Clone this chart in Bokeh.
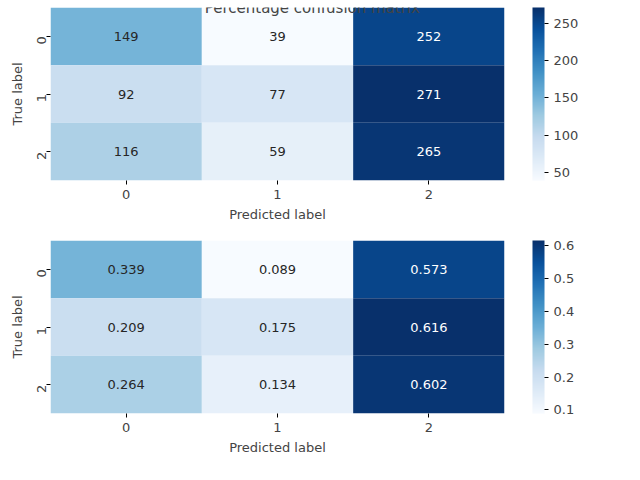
import math
from bokeh.plotting import figure
from bokeh.layouts import column
from bokeh.models import ColumnDataSource, LinearColorMapper, ColorBar, FixedTicker, Label
from bokeh.palettes import Blues256
from bokeh.core.properties import value
from bokeh.embed import file_html
from bokeh.resources import INLINE

labels = ["0", "1", "2"]
counts = [[149, 39, 252], [92, 77, 271], [116, 59, 265]]
fractions = [[0.339, 0.089, 0.573], [0.209, 0.175, 0.616], [0.264, 0.134, 0.602]]
count_ticks = [50, 100, 150, 200, 250]
frac_ticks = [0.1, 0.2, 0.3, 0.4, 0.5, 0.6]
FONT = "DejaVu Sans"


def heatmap(mat, fmt, ticks, top):
    vals = [v for r in mat for v in r]
    lo, hi = min(vals), max(vals)
    xs, ys, vs, txt, tcol = [], [], [], [], []
    for i, r in enumerate(mat):
        for j, v in enumerate(r):
            xs.append(labels[j]); ys.append(labels[i]); vs.append(v)
            txt.append(fmt(v))
            tcol.append("white" if (v - lo) / (hi - lo) > 0.6 else "#262626")
    src = ColumnDataSource(dict(x=xs, y=ys, v=vs, t=txt, c=tcol))
    mapper = LinearColorMapper(palette=Blues256[::-1], low=lo, high=hi)
    p = figure(x_range=labels, y_range=labels[::-1],
               frame_width=454, frame_height=173, min_border_left=50,
               min_border_top=top, min_border_bottom=52, min_border_right=100,
               output_backend="svg", toolbar_location=None)
    p.rect("x", "y", 1, 1, source=src, fill_color={"field": "v", "transform": mapper},
           line_color=None)
    p.text("x", "y", text="t", source=src, text_color="c", text_align="center",
           text_baseline="middle", text_font=value(FONT), text_font_size="13px")
    cb = ColorBar(color_mapper=mapper, width=12, height=173, padding=0, margin=0,
                  location=(28, 0),
                  ticker=FixedTicker(ticks=ticks), major_label_text_font=FONT,
                  major_label_text_font_size="13px", major_tick_out=4, major_tick_in=0,
                  major_tick_line_color="black", bar_line_color=None, border_line_color=None,
                  background_fill_color=None)
    p.add_layout(cb, "right")
    p.grid.visible = False
    p.outline_line_color = None
    for ax in (p.xaxis, p.yaxis):
        ax.axis_line_color = None
        ax.major_label_text_font = FONT
        ax.major_label_text_font_size = "13px"
        ax.axis_label_text_font = FONT
        ax.axis_label_text_font_size = "13px"
        ax.axis_label_text_font_style = "normal"
        ax.major_tick_out = 4
        ax.major_tick_in = 0
        ax.minor_tick_line_color = None
    p.xaxis.axis_label = "Predicted label"
    p.yaxis.axis_label = "True label"
    p.yaxis.major_label_orientation = math.pi / 2
    return p


p1 = heatmap(counts, lambda v: str(v), count_ticks, 7)
p1.add_layout(Label(x=1.73, y=2.99, text="Percentage confusion matrix", text_align="center",
                    text_baseline="middle", text_font=FONT, text_font_size="15px"))
p2 = heatmap(fractions, lambda v: "%.3f" % v, frac_ticks, 8)
p = column(p1, p2, spacing=0)
open("out.html", "w").write(file_html(p, INLINE))
